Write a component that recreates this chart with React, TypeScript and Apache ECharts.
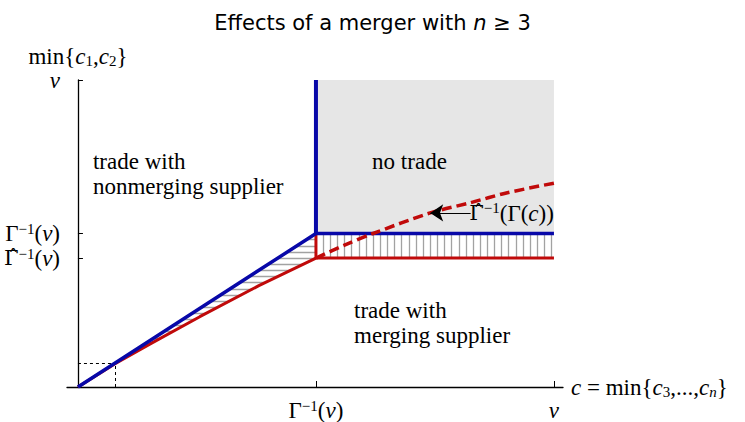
import React, { useEffect, useRef } from 'react';
import * as echarts from 'echarts';

// Axis ticks: c on the x axis, min{c1,c2} on the y axis (v normalised to 1)
const xTickValues = [0.5, 1];
const xTickLabels = ['{r|Γ}{sup|−1}{r|(}{i|v}{r|)}', '{i|v}'];
const yTickValues = [0.42, 0.5, 1];
const yTickLabels = ['{hat|Γ̂}{sup|−1}{low|(}{lowi|v}{low|)}', '{r|Γ}{sup|−1}{r|(}{i|v}{r|)}', '{i|v}'];

// Boundary of trade with the nonmerging supplier (blue)
const blueBoundary: [number, number][] = [[0, 0], [0.5, 0.5], [1, 0.5]];
const blueVertical: [number, number][] = [[0.5, 0.5], [0.5, 1]];

// Boundary of trade with the merging supplier (red)
const redBoundary: [number, number][] = [
  [0, 0], [0.078, 0.076], [0.15, 0.139], [0.256, 0.229], [0.38, 0.33], [0.5, 0.42], [1, 0.42],
];
const redVertical: [number, number][] = [[0.5, 0.42], [0.5, 0.5]];

// Γ̂^{-1}(Γ(c)) beyond Γ^{-1}(v)
const hatCurve: [number, number][] = [
  [0.5, 0.42], [0.56, 0.462], [0.62, 0.5], [0.74, 0.567], [0.824, 0.6], [0.9, 0.632], [1, 0.664],
];

// No-trade region corners
const noTradeRegion: [number, number][] = [[0.5, 0.5], [1, 1]];

// Point where the two boundaries separate
const splitPoint: [number, number] = [0.078, 0.078];

// Arrow pointing at the dashed curve
const arrowTip: [number, number] = [0.74, 0.567];
const arrowTail: [number, number] = [0.825, 0.567];

// Region captions and the arrow's caption
const captions = [
  '{cap|trade with}\n{cap|nonmerging supplier}',
  '{cap|no trade}',
  '{cap|trade with}\n{cap|merging supplier}',
  '{hat|Γ̂}{sup|−1}{low|(Γ(}{lowi|c}{low|))}',
];
// Top-left corner of each caption, in (c, min{c1,c2}) units
const captionAnchors: [number, number][] = [[0.0315, 0.775], [0.618, 0.775], [0.58, 0.29], [0.822, 0.607]];

// Hatch spacing
const H_STEP = 0.02;
const V_STEP = 0.015;

const SERIF = 'Liberation Serif';
const FS = 23;
const BLUE = '#0808a8';
const RED = '#c00a0a';

const rich: Record<string, any> = {
  r: { fontFamily: SERIF, fontSize: FS, color: '#000', lineHeight: 24 },
  cap: { fontFamily: SERIF, fontSize: FS, color: '#000', lineHeight: 25 },
  hat: { fontFamily: 'DejaVu Serif', fontSize: 21, color: '#000', lineHeight: 24 },
  i: { fontFamily: SERIF, fontSize: FS, fontStyle: 'italic', color: '#000', lineHeight: 24 },
  low: { fontFamily: SERIF, fontSize: FS, color: '#000', lineHeight: 16, verticalAlign: 'bottom' },
  lowi: { fontFamily: SERIF, fontSize: FS, fontStyle: 'italic', color: '#000', lineHeight: 16, verticalAlign: 'bottom' },
  sup: { fontFamily: SERIF, fontSize: 15, color: '#000', lineHeight: 8, verticalAlign: 'top' },
  sub: { fontFamily: SERIF, fontSize: 15, color: '#000', lineHeight: 16, verticalAlign: 'bottom' },
  subi: { fontFamily: SERIF, fontSize: 15, fontStyle: 'italic', color: '#000', lineHeight: 16, verticalAlign: 'bottom' },
};

function redInverse(y: number): number {
  const diag = redBoundary.filter((p) => p[0] <= 0.5);
  for (let k = 1; k < diag.length; k++) {
    const [x0, y0] = diag[k - 1];
    const [x1, y1] = diag[k];
    if (y <= y1) return x0 + ((y - y0) / (y1 - y0)) * (x1 - x0);
  }
  return 0.5;
}

function hatchSegments() {
  const segs: { coords: [number, number][] }[] = [];
  const top = blueBoundary[1][1];
  const hatLevel = redBoundary[redBoundary.length - 1][1];
  const corner = blueBoundary[1][0];
  for (let k = 1; k * H_STEP <= top + 1e-9; k++) {
    const y = +(k * H_STEP).toFixed(4);
    const xl = y;
    const xr = y >= hatLevel ? corner : Math.min(redInverse(y), corner);
    if (xr > xl) segs.push({ coords: [[xl, y], [xr, y]] });
  }
  const xEnd = blueBoundary[2][0];
  for (let k = 1; corner + k * V_STEP <= xEnd + 1e-9; k++) {
    const x = +(corner + k * V_STEP).toFixed(4);
    segs.push({ coords: [[x, hatLevel], [x, top]] });
  }
  return segs;
}

export default function App() {
  const ref = useRef<HTMLDivElement>(null);

  useEffect(() => {
    if (!ref.current) return;
    const chart = echarts.init(ref.current, undefined, { renderer: 'svg' });

    const plainLine = (data: [number, number][], color: string, width: number, z: number, extra: any = {}) => ({
      type: 'line',
      data,
      showSymbol: false,
      symbol: 'none',
      lineStyle: { color, width, cap: 'butt' },
      z,
      silent: true,
      ...extra,
    });

    chart.setOption({
      animation: false,
      title: {
        text: 'Effects of a merger with {i|n} ≥ 3',
        left: 'center',
        top: 7,
        textStyle: {
          fontFamily: 'DejaVu Sans',
          fontWeight: 'normal',
          fontSize: 21,
          color: '#000',
          rich: {
            i: { fontFamily: 'DejaVu Sans', fontStyle: 'italic', fontSize: 21, color: '#000' },
          },
        },
      },
      grid: { left: 67, right: 182, top: 80, bottom: 35, containLabel: false, outerBoundsMode: 'none' },
      xAxis: {
        type: 'value',
        min: -0.023,
        max: 1.019,
        splitLine: { show: false },
        axisLine: { show: true, onZero: true, lineStyle: { color: '#000', width: 1.3 } },
        axisTick: { show: true, inside: true, length: 6, customValues: xTickValues, lineStyle: { color: '#000', width: 1 } },
        axisLabel: {
          customValues: xTickValues,
          margin: 11,
          formatter: (v: number) => xTickLabels[xTickValues.indexOf(v)] ?? '',
          rich,
        },
        name: '{i|c}{r| = min{}{i|c}{sub|3}{r|,...,}{i|c}{subi|n}}',
        nameLocation: 'end',
        nameGap: 8,
        nameTextStyle: { fontFamily: SERIF, fontSize: FS, color: '#000', rich },
      },
      yAxis: {
        type: 'value',
        min: 0,
        max: 1,
        splitLine: { show: false },
        axisLine: { show: true, onZero: true, lineStyle: { color: '#000', width: 1.3 } },
        axisTick: { show: true, inside: true, length: 5, customValues: yTickValues, lineStyle: { color: '#000', width: 1 } },
        axisLabel: {
          customValues: yTickValues,
          margin: 7,
          hideOverlap: false,
          formatter: (v: number) => yTickLabels[yTickValues.indexOf(v)] ?? '',
          rich,
        },
        name: '{r|min{}{i|c}{sub|1}{r|,}{i|c}{sub|2}}',
        nameLocation: 'end',
        nameGap: 12,
        nameTextStyle: { fontFamily: SERIF, fontSize: FS, color: '#000', rich },
      },
      series: [
        // hatching between the two boundaries
        {
          type: 'lines',
          coordinateSystem: 'cartesian2d',
          data: hatchSegments(),
          lineStyle: { color: '#a2a2a2', width: 1.3, opacity: 1 },
          z: 2,
          silent: true,
        },
        plainLine(redBoundary, RED, 3, 3),
        plainLine(redVertical, RED, 3, 3),
        plainLine(blueBoundary, BLUE, 3.5, 4),
        plainLine(blueVertical, BLUE, 4, 4, {
          markArea: {
            silent: true,
            itemStyle: { color: '#e6e6e6' },
            data: [[{ coord: noTradeRegion[0] }, { coord: noTradeRegion[1] }]],
            z: 0,
          },
        }),
        plainLine(hatCurve, RED, 3.5, 5, {
          smooth: 0.3,
          lineStyle: { color: RED, width: 3.5, type: [10, 5] },
        }),
        // dotted guides to the split point
        {
          type: 'lines',
          coordinateSystem: 'cartesian2d',
          data: [
            { coords: [[0, splitPoint[1]], splitPoint] },
            { coords: [[splitPoint[0], 0], splitPoint] },
          ],
          lineStyle: { color: '#000', width: 1, type: [3, 3], opacity: 1 },
          z: 1,
          silent: true,
        },
        // arrow to the dashed curve
        {
          type: 'lines',
          coordinateSystem: 'cartesian2d',
          data: [{ coords: [arrowTail, arrowTip] }],
          symbol: ['none', 'arrow'],
          symbolSize: 13,
          lineStyle: { color: '#000', width: 1.2, opacity: 1 },
          itemStyle: { color: '#000' },
          z: 6,
          silent: true,
        },
        // captions
        {
          type: 'scatter',
          data: captionAnchors.map((p) => p),
          symbolSize: 0,
          itemStyle: { opacity: 1, color: '#000' },
          silent: true,
          z: 10,
          label: {
            show: true,
            position: [0, 0],
            align: 'left',
            verticalAlign: 'top',
            fontFamily: SERIF,
            fontSize: FS,
            color: '#000',
            opacity: 1,
            formatter: (p: any) => captions[p.dataIndex],
            rich,
          },
          labelLayout: { hideOverlap: false },
        },
      ],
    });

    return () => chart.dispose();
  }, []);

  return <div ref={ref} style={{ position: 'absolute', left: 0, top: 0, width: 745, height: 422 }} />;
}
